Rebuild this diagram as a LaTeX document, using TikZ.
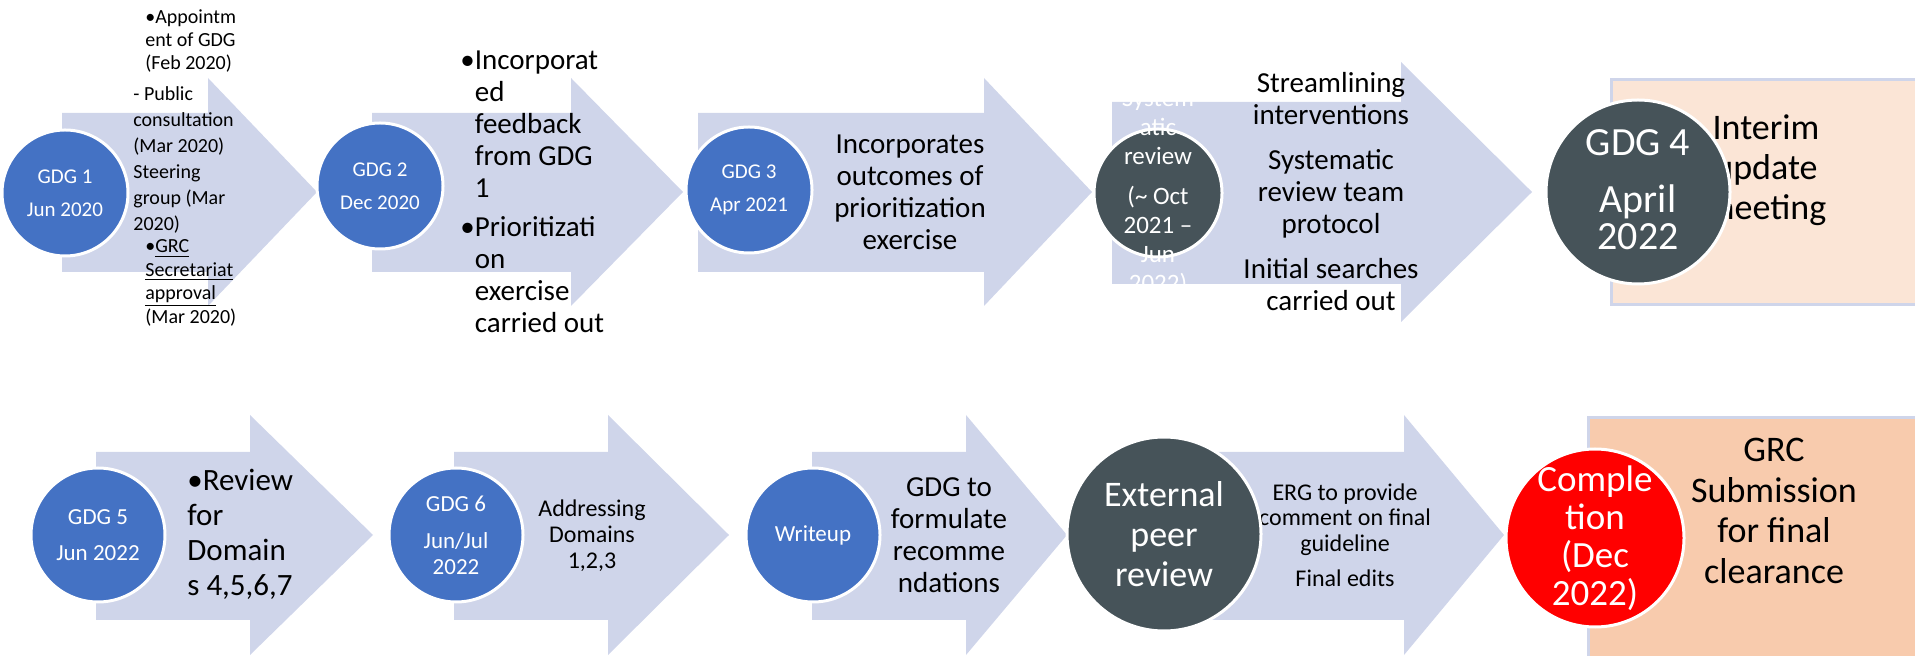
\documentclass[tikz,border=0pt]{standalone}
\usepackage{fontspec}
\setmainfont{Carlito}
\definecolor{arrowfill}{HTML}{CFD5EA}
\definecolor{gdgblue}{HTML}{4472C4}
\definecolor{slate}{HTML}{465359}
\definecolor{peachlight}{HTML}{FBE5D6}
\definecolor{peach}{HTML}{F8CBAD}
\newcommand{\fsz}[2]{\fontsize{#1}{#2}\selectfont}
\newcommand{\ind}{\hphantom{\textbullet}}

\begin{document}
\begin{tikzpicture}[x=0.5pt, y=-0.5pt,
		ball/.style={circle, draw=white, line width=1.5pt, inner sep=0pt},
		blueball/.style={ball, fill=gdgblue},
		darkball/.style={ball, fill=slate},
		redball/.style={ball, fill=red},
		balltext/.style={text=white, align=center, inner sep=0pt},
		note/.style={align=center, inner sep=0pt, text=black},
		leftnote/.style={note, align=left, anchor=west},
		box/.style={draw=arrowfill, line width=1.5pt}]
		\useasboundingbox (0,0) rectangle (1915,656);
		% chevrons
		\foreach \ax/\at/\ab/\hx/\hy/\tx/\ty in {62/113/272/208/78/317/192, 372/113/272/571/78/683/192,
			698/113/272/984/78/1092/192, 1112/102/284/1401/62/1532/192,
			96/452/620/250/415/373/535, 454/452/620/608/415/729/535,
			812/452/620/966/415/1067/535, 1164/452/620/1404/415/1504/535}
			\fill[arrowfill] (\ax,\at) -- (\hx,\at) -- (\hx,\hy) -- (\tx,\ty) -- (\hx,{2*\ty-\hy}) -- (\hx,\ab) -- (\ax,\ab) -- cycle;
		% end boxes
		\filldraw[box, fill=peachlight] (1611,80) rectangle (1930,305);
		\filldraw[box, fill=peach] (1588,418) rectangle (1930,670);
		% texts in the chevrons
		\node[leftnote, font=\fsz{10}{11.7}] (note1a) at (145,41) {\textbullet Appointm\\ent of GDG\\(Feb 2020)};
		\node[leftnote, font=\fsz{10}{13}] (note1b) at (133,160) {- Public\\consultation\\(Mar 2020)\\Steering\\group (Mar\\2020)};
		\node[leftnote, font=\fsz{10}{11.7}] (note1c) at (145,283) {\textbullet\underline{GRC}\\\underline{Secretariat}\\\underline{approval}\\(Mar 2020)};
		\node[leftnote, font=\fsz{14.5}{16}] (note2) at (460,191.5) {\textbullet Incorporat\\\ind ed\\\ind feedback\\\ind from GDG\\\ind 1\\[3.5pt]\textbullet Prioritizati\\\ind on\\\ind exercise\\\ind carried out};
		\node[note, font=\fsz{14.5}{16}] (note3) at (910,192.5) {Incorporates\\outcomes of\\prioritization\\exercise};
		\node[note, font=\fsz{14.5}{16}] (note4) at (1331,191.5) {Streamlining\\interventions\\[6.5pt]Systematic\\review team\\protocol\\[6.5pt]Initial searches\\carried out};
		\node[note, font=\fsz{18}{20}] (interim) at (1766,170) {Interim\\update\\meeting};
		\node[leftnote, font=\fsz{15.5}{17.5}] (note5) at (187,534.5) {\textbullet Review\\for\\Domain\\s 4,5,6,7};
		\node[note, font=\fsz{12}{13}] (note6) at (592,536) {Addressing\\Domains\\1,2,3};
		\node[note, font=\fsz{14.5}{16}] (note7) at (949,535.5) {GDG to\\formulate\\recomme\\ndations};
		\node[note, font=\fsz{12}{12.75}] (note8) at (1345,535.5) {ERG to provide\\comment on final\\guideline\\[5pt]Final edits};
		\node[note, font=\fsz{18}{20.3}] (grc) at (1774,511) {GRC\\Submission\\for final\\clearance};
		% milestones
		\node[blueball, minimum size=63pt] (gdg1) at (65,193) {};
		\node[blueball, minimum size=63pt] (gdg2) at (380,186) {};
		\node[blueball, minimum size=63pt] (gdg3) at (749,190) {};
		\node[darkball, minimum size=64pt] (sysrev) at (1158,193) {};
		\node[darkball, minimum size=92pt] (gdg4) at (1638,192) {};
		\node[blueball, minimum size=67pt] (gdg5) at (98,535) {};
		\node[blueball, minimum size=67pt] (gdg6) at (456,535) {};
		\node[blueball, minimum size=67pt] (writeup) at (813,535) {};
		\node[darkball, minimum size=97pt] (peer) at (1164,534) {};
		\node[redball, minimum size=89pt] (done) at (1595,538) {};
		\node[balltext, font=\fsz{10.5}{16.5}] at (gdg1) {GDG 1\\Jun 2020};
		\node[balltext, font=\fsz{10.5}{16.5}] at (gdg2) {GDG 2\\Dec 2020};
		\node[balltext, font=\fsz{10.5}{16.5}] at (gdg3) {GDG 3\\Apr 2021};
		\node[balltext, font=\fsz{12.5}{14.5}] at (sysrev) {System\\atic\\review\\[5.5pt](\textasciitilde\ Oct\\2021 –\\Jun\\2022)};
		\node[balltext, font=\fsz{20}{18.5}] at (1638,190) {GDG 4\\[10pt]April\\2022};
		\node[balltext, font=\fsz{11.5}{18}] at (gdg5) {GDG 5\\Jun 2022};
		\node[balltext, font=\fsz{11.5}{13}] at (gdg6) {GDG 6\\[5.5pt]Jun/Jul\\2022};
		\node[balltext, font=\fsz{11.5}{14}] at (writeup) {Writeup};
		\node[balltext, font=\fsz{18}{20}] at (peer) {External\\peer\\review};
		\node[balltext, font=\fsz{18.5}{19}] at (done) {Comple\\tion\\(Dec\\2022)};
	\end{tikzpicture}
\end{document}
